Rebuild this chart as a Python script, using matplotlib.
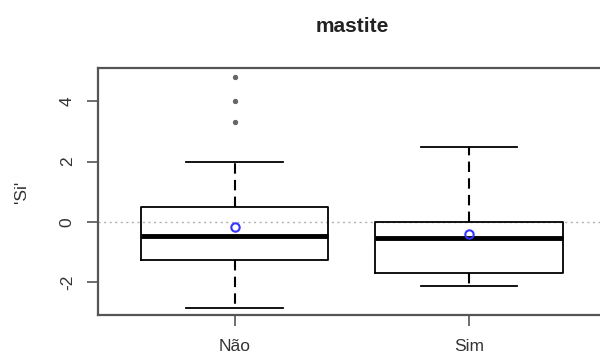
import matplotlib
matplotlib.use('Agg')
import matplotlib.pyplot as plt

plt.rcParams['font.family'] = ['Liberation Sans', 'DejaVu Sans']

# group labels and box statistics
groups = ['Não', 'Sim']
whislo = [-2.85, -2.13]
q1 = [-1.28, -1.69]
med = [-0.48, -0.55]
q3 = [0.50, 0.00]
whishi = [2.00, 2.48]
fliers = [[3.33, 4.01, 4.81], []]
means = [-0.17, -0.41]

yticks = [-2, 0, 2, 4]

stats = []
for i in range(len(groups)):
    stats.append({'label': groups[i], 'whislo': whislo[i], 'q1': q1[i],
                  'med': med[i], 'q3': q3[i], 'whishi': whishi[i],
                  'fliers': fliers[i], 'mean': means[i]})

fig = plt.figure(figsize=(6, 3.6), dpi=100)
ax = fig.add_axes([0.164, 0.124, 0.845, 0.687])

ax.axhline(0, color='#b0b0b0', lw=1.0, ls=(0, (1.5, 2.5)), zorder=1)

ax.bxp(stats, positions=[1, 2], widths=0.8, showmeans=True, meanline=False,
       boxprops=dict(color='black', lw=1.3),
       medianprops=dict(color='black', lw=3.5, solid_capstyle='butt'),
       whiskerprops=dict(color='black', lw=1.5, ls=(0, (5, 3))),
       capprops=dict(color='black', lw=1.3),
       capwidths=0.41,
       flierprops=dict(marker='o', markersize=2.8, markerfacecolor='#666666',
                       markeredgecolor='#666666'),
       meanprops=dict(marker='o', markersize=6, markerfacecolor='none',
                      markeredgecolor='#3333ff', markeredgewidth=1.5),
       zorder=2)

ax.set_xlim(0.42, 2.58)
ax.set_ylim(-3.11, 5.11)
ax.set_yticks(yticks)
ax.set_yticklabels([str(v) for v in yticks], rotation=90, va='center')

for s in ax.spines.values():
    s.set_color('#555555')
    s.set_linewidth(1.6)

ax.tick_params(axis='both', length=8, width=1.2, color='#555555',
               labelsize=12.5, labelcolor='#333333', pad=9)

ax.set_ylabel("'Si'", fontsize=12.5, color='#333333', labelpad=22)
ax.set_title('mastite', fontsize=15, fontweight='bold', color='#222222', pad=26)

fig.savefig('out.png', dpi=100)
